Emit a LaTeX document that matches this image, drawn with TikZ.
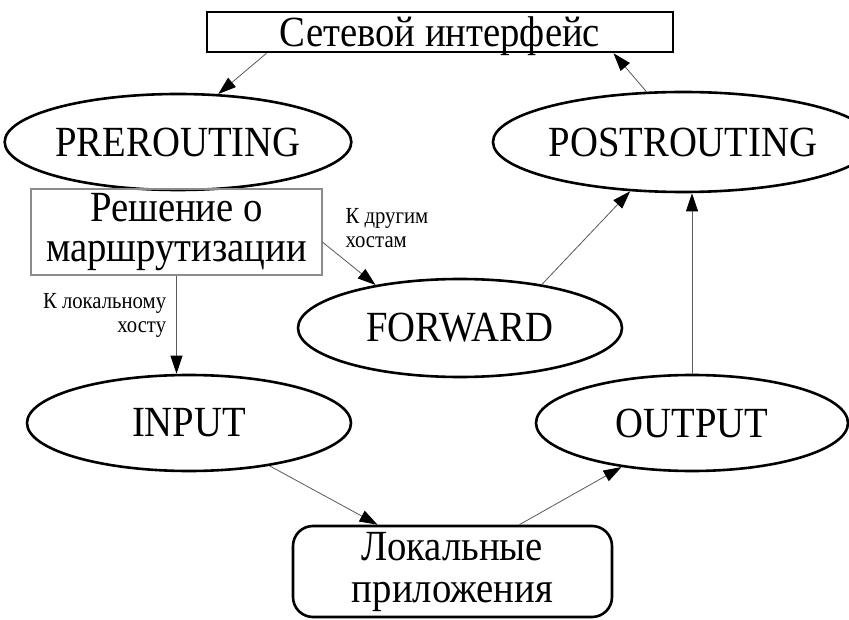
\documentclass[tikz,border=0pt]{standalone}
\usepackage{fontspec}
\setmainfont{Liberation Serif}[FakeStretch=0.9]
\usetikzlibrary{arrows.meta, shapes.geometric}

\begin{document}
\begin{tikzpicture}[
  x=1pt, y=-1pt,
  elli/.style={
    ellipse, draw, line width=2.6pt, inner sep=0pt,
    font=\fontsize{43}{44}\selectfont
  },
  box/.style={
    rectangle, draw, inner sep=0pt, align=center,
    font=\fontsize{43}{40}\selectfont
  },
  lbl/.style={font=\fontsize{23}{24}\selectfont, text=black, inner sep=0pt},
  arr/.style={-{Triangle[length=18pt, width=12pt, color=black]},
    black!65, line width=0.8pt}
]
  \useasboundingbox (0,0) rectangle (849,620);

  \node[box, line width=2.6pt, minimum width=466pt, minimum height=40pt,
        text height=35pt, text depth=5pt] (netif) at (440,32) {Сетевой интерфейс};
  \node[elli, minimum width=332pt, minimum height=96pt] (pre) at (178,142) {PREROUTING};
  \node[elli, minimum width=322pt, minimum height=100pt] (post) at (683,142) {POSTROUTING};
  \node[box, draw=black!45, line width=1.2pt, minimum width=291pt, minimum height=86pt] (dec) at (176.5,232) {Решение о\\маршрутизации};
  \node[elli, minimum width=324pt, minimum height=98pt] (fwd) at (460,328) {FORWARD};
  \node[elli, minimum width=324pt, minimum height=96pt] (inp) at (189,423) {INPUT};
  \node[elli, minimum width=312pt, minimum height=96pt] (out) at (692,423) {OUTPUT};
  \node[box, rounded corners=20pt, line width=2.6pt, minimum width=319pt, minimum height=91pt,
        font=\fontsize{43}{42}\selectfont] (loc) at (452.5,571.5) {Локальные\\приложения};

  \foreach \a/\b in {netif.187/pre.50, post.126/netif.353, fwd.28/post.223,
                     inp.332/loc.148, loc.35/out.212}
    \draw[arr] (\a)--(\b);
  \draw[arr] (dec.south) -- node[lbl, pos=0.41, left=10pt, align=right] {К локальному\\хосту} (dec.south |- inp.north);
  \draw[arr] (dec.356) -- node[lbl, pos=0.2, anchor=south west, align=left, xshift=12pt, yshift=3pt] {К другим\\хостам} (fwd.153);
  \draw[arr] (out.north) -- (out.north |- post.south);
\end{tikzpicture}
\end{document}
